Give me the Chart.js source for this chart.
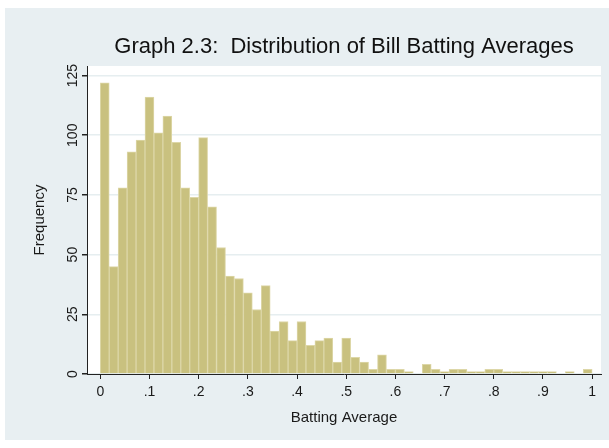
<!DOCTYPE html>
<html>
<head>
<meta charset="utf-8">
<script src="https://cdn.jsdelivr.net/npm/chart.js@4/dist/chart.umd.min.js"></script>
<style>
  html, body { margin: 0; padding: 0; background: #ffffff; }
  #wrap { width: 609px; height: 448px; position: relative; }
</style>
</head>
<body>
<div id="wrap"><canvas id="c" width="609" height="448"></canvas></div>
<script>
// ---- data ----
const titleText = 'Graph 2.3:  Distribution of Bill Batting Averages';
const xTitle = 'Batting Average';
const yTitle = 'Frequency';
const binCount = 55;           // bins spanning 0..1
const binStartValue = 0;
const binEndValue = 1;
const frequency = [122, 45, 78, 93, 98, 116, 101, 108, 97, 78,
                   74, 99, 70, 53, 41, 40, 34, 27, 37, 18,
                   22, 14, 22, 12, 14, 15, 5, 15, 7, 5,
                   2, 8, 2, 2, 1, 0, 4, 2, 1, 2,
                   2, 1, 1, 2, 2, 1, 1, 1, 1, 1,
                   1, 0, 1, 0, 2];
const xTickValues = [0, 0.1, 0.2, 0.3, 0.4, 0.5, 0.6, 0.7, 0.8, 0.9, 1];
const xTickLabels = ['0', '.1', '.2', '.3', '.4', '.5', '.6', '.7', '.8', '.9', '1'];
const yTickValues = [0, 25, 50, 75, 100, 125];
const yTickLabels = ['0', '25', '50', '75', '100', '125'];

// bin centres (histogram layout)
const binWidth = (binEndValue - binStartValue) / binCount;
const points = frequency.map((f, i) => ({ x: binStartValue + (i + 0.5) * binWidth, y: f }));

const FONT = "'Liberation Sans', Arial, sans-serif";

const bgPlugin = {
  id: 'bg',
  beforeDraw(chart) {
    const { ctx, chartArea } = chart;
    ctx.save();
    ctx.fillStyle = '#ffffff';
    ctx.fillRect(0, 0, chart.width, chart.height);
    ctx.fillStyle = '#e8eff2';
    ctx.fillRect(5, 8, chart.width - 5, 432);
    ctx.fillStyle = '#ffffff';
    ctx.fillRect(chartArea.left, chartArea.top, chartArea.right - chartArea.left, chartArea.bottom - chartArea.top);
    ctx.restore();
  }
};

const textPlugin = {
  id: 'texts',
  afterDraw(chart) {
    const { ctx, chartArea } = chart;
    const ys = chart.scales.y;
    ctx.save();
    // title, centred over the plot region
    ctx.font = '22px ' + FONT;
    ctx.fillStyle = '#111111';
    ctx.textAlign = 'center';
    ctx.textBaseline = 'alphabetic';
    ctx.fillText(titleText, (chartArea.left + chartArea.right) / 2, 53);
    // rotated y tick labels
    ctx.font = '14px ' + FONT;
    ctx.fillStyle = '#1a1a1a';
    ctx.textAlign = 'center';
    ctx.textBaseline = 'middle';
    ys.ticks.forEach((t) => {
      const py = ys.getPixelForValue(t.value);
      ctx.save();
      ctx.translate(73, py);
      ctx.rotate(-Math.PI / 2);
      ctx.fillText(yTickLabels[yTickValues.indexOf(t.value)], 0, 0);
      ctx.restore();
    });
    ctx.restore();
  }
};

new Chart(document.getElementById('c'), {
  type: 'bar',
  data: {
    datasets: [{
      data: points,
      backgroundColor: '#c9c17f',
      borderColor: '#ddd7a8',
      borderWidth: 1,
      barPercentage: 1,
      categoryPercentage: 1
    }]
  },
  options: {
    responsive: false,
    animation: false,
    devicePixelRatio: 1,
    layout: { padding: { left: 0, right: 8, top: 66, bottom: 0 } },
    plugins: {
      legend: { display: false },
      tooltip: { enabled: false },
      title: { display: false }
    },
    scales: {
      x: {
        type: 'linear',
        offset: false,
        min: -0.027,
        max: 1.018,
        afterFit(scale) { scale.height = 74; },
        afterBuildTicks(scale) { scale.ticks = xTickValues.map(v => ({ value: v })); },
        border: { display: true, color: '#222222', width: 1 },
        grid: { offset: false, drawOnChartArea: false, drawTicks: true, tickLength: 5, tickColor: '#222222' },
        ticks: {
          autoSkip: false,
          maxRotation: 0,
          padding: 5,
          color: '#1a1a1a',
          font: { family: FONT, size: 14 },
          callback: (v) => { const i = xTickValues.findIndex(t => Math.abs(t - v) < 1e-9); return i >= 0 ? xTickLabels[i] : ''; }
        },
        title: {
          display: true,
          text: xTitle,
          color: '#1a1a1a',
          font: { family: FONT, size: 15 },
          padding: { top: 0, bottom: 21 }
        }
      },
      y: {
        min: 0,
        max: 129,
        afterFit(scale) { scale.width = 87; },
        afterBuildTicks(scale) { scale.ticks = yTickValues.map(v => ({ value: v })); },
        border: { display: true, color: '#222222', width: 1 },
        grid: { drawOnChartArea: true, color: '#e6eef0', lineWidth: 1.5, drawTicks: true, tickLength: 5, tickColor: '#222222' },
        ticks: { display: false },
        title: {
          display: true,
          text: yTitle,
          color: '#1a1a1a',
          font: { family: FONT, size: 15 },
          padding: { top: 31, bottom: 0 }
        }
      }
    }
  },
  plugins: [bgPlugin, textPlugin]
});
</script>
</body>
</html>
